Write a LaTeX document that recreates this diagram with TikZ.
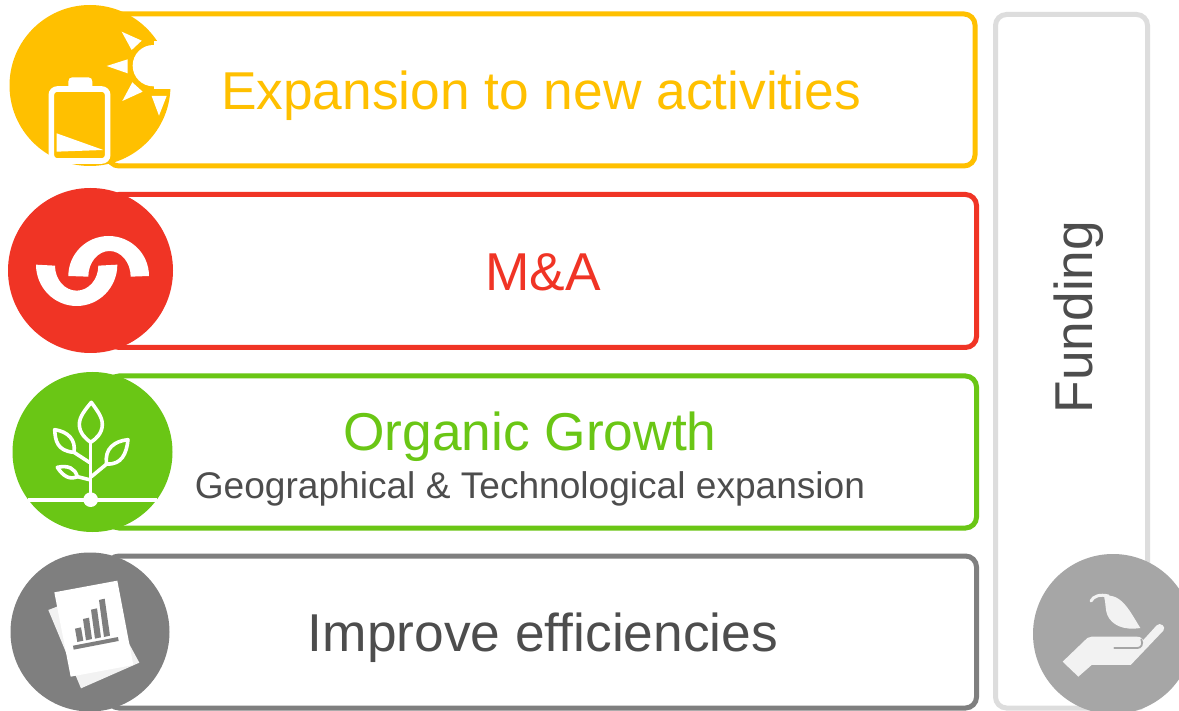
\documentclass[tikz,border=0pt]{standalone}
\usepackage{fontspec}
\setmainfont{Liberation Sans}
\definecolor{cyellow}{HTML}{FFC000}
\definecolor{cred}{HTML}{F03425}
\definecolor{cgreen}{HTML}{6AC615}
\definecolor{cgrey}{HTML}{7F7F7F}
\definecolor{ctext}{HTML}{4D4D4D}
\definecolor{cfund}{HTML}{DDDDDD}
\definecolor{chand}{HTML}{A6A6A6}
\definecolor{cpale}{HTML}{F2F2F2}
\tikzset{
  panel/.style={draw=#1,line width=5pt,rounded corners=11pt,fill=white},
  bigtext/.style={anchor=base,inner sep=0pt,font=\fontsize{53.3}{60}\selectfont},
  subtext/.style={anchor=base,inner sep=0pt,font=\fontsize{37.1}{42}\selectfont,text=ctext},
  puck/.style={fill=#1,draw=none},
  wline/.style={draw=white,line width=3.6pt,line join=round,line cap=round},
}
\begin{document}
\begin{tikzpicture}[x=1pt,y=-1pt]
\useasboundingbox (0,0) rectangle (1179,711);
\fill[white] (0,0) rectangle (1179,711);
% panels
\draw[panel=cfund] (995.5,14.5) rectangle (1147.5,708);
\draw[panel=cyellow] (108,14) rectangle (975,166);
\draw[panel=cred] (108,194.5) rectangle (976.5,347.5);
\draw[panel=cgreen] (108,376) rectangle (976.5,528);
\draw[panel=cgrey] (108,556) rectangle (976.5,708);
% yellow icon
\fill[puck=cyellow] (90,85.5) circle[radius=80.5];
\begin{scope}[scale=1/3]
  \fill[white] (460,197) circle[radius=62];
  \fill[white] (462,124) rectangle (530,268);
  \fill[white] (365,95) -- (425,122) -- (395,150) -- cycle;
  \fill[white] (320,198) -- (383,178) -- (383,220) -- cycle;
  \fill[white] (367,303) -- (428,275) -- (397,247) -- cycle;
  \fill[white] (455,288) -- (500,288) -- (477,347) -- cycle;
  \fill[white] (205,262) -- (205,245) .. controls (205,237) and (209,232) .. (217,232) -- (265,232) .. controls (273,232) and (277,237) .. (277,245) -- (277,262) -- cycle;
  \draw[white,line width=5.6pt,rounded corners=6pt] (154,267) rectangle (323,483);
  \fill[white] (170,400) -- (310,450) -- (170,455) -- cycle;
\end{scope}
% red icon
\fill[puck=cred] (90.5,270.5) circle[radius=82.5];
\begin{scope}[shift={(0,180)},scale=1/3]
  \fill[white] (108,254) arc[start angle=180,end angle=0,x radius=122,y radius=124] -- (295,257) arc[start angle=0,end angle=180,x radius=65,y radius=75] -- cycle;
  \fill[white] (205,288) arc[start angle=180,end angle=360,x radius=121,y radius=120] -- (392,290) arc[start angle=0,end angle=-180,x radius=63.5,y radius=77] -- cycle;
\end{scope}
% green icon
\fill[puck=cgreen] (92.5,452) circle[radius=80];
\begin{scope}[shift={(0,365)},scale=1/3]
  \draw[white,line width=4pt] (84,404) -- (472,404);
  \fill[white] (272,404) circle[radius=22];
  \draw[wline] (272,404) -- (272,232);
  \draw[wline] (274,112) .. controls (255,135) and (238,155) .. (238,178) .. controls (238,205) and (258,222) .. (272,232) .. controls (288,222) and (307,205) .. (307,178) .. controls (307,155) and (290,135) .. (274,112) -- cycle;
  \draw[wline] (164,194) .. controls (166,225) and (170,258) .. (222,262) .. controls (228,225) and (205,200) .. (164,194) -- cycle;
  \draw[wline] (384,224) .. controls (345,228) and (312,250) .. (320,297) .. controls (365,300) and (380,265) .. (384,224) -- cycle;
  \draw[wline] (172,307) .. controls (190,335) and (210,345) .. (232,335) .. controls (225,310) and (205,300) .. (172,307) -- cycle;
  \draw[wline] (222,262) -- (268,292);
  \draw[wline] (320,297) -- (274,335);
  \draw[wline] (232,335) -- (268,344);
\end{scope}
% grey icon
\fill[puck=cgrey] (90,632) circle[radius=79.5];
\begin{scope}[shift={(0,540)},scale=1/3]
  \fill[cpale] (145,210) -- (300,150) -- (418,368) -- (243,445) -- cycle;
  \fill[white] (163,157) -- (352,122) -- (400,375) -- (212,410) -- cycle;
  \draw[cgrey,line width=4pt] (220,323) -- (355,297);
  \fill[cgrey] (225,266) -- (243,262) -- (250,302) -- (232,306) -- cycle;
  \fill[cgrey] (249,237) -- (267,233) -- (276,297) -- (258,301) -- cycle;
  \fill[cgrey] (273,209) -- (291,205) -- (303,292) -- (285,296) -- cycle;
  \fill[cgrey] (297,180) -- (314,176) -- (330,287) -- (312,291) -- cycle;
\end{scope}
% hand icon
\fill[puck=chand] (1113,634) circle[radius=80];
\begin{scope}[shift={(980,540)},scale=1/3]
  \draw[cpale,line width=3pt,line cap=round] (333,183) .. controls (340,168) and (360,162) .. (385,168);
  \fill[cpale] (372,168) .. controls (425,158) and (450,215) .. (481,264) .. controls (430,272) and (395,255) .. (382,225) .. controls (375,208) and (378,190) .. (372,168) -- cycle;
  \fill[cpale] (248,365) -- (322,294) .. controls (326,291) and (330,290) .. (335,290) -- (470,290) .. controls (482,290) and (488,296) .. (490,300) -- (530,256) .. controls (540,245) and (560,260) .. (550,272) -- (452,375) -- (335,375) -- (295,410) -- cycle;
  \draw[chand,line width=1.8pt,line cap=round] (403,324) -- (472,324) .. controls (484,324) and (490,312) .. (484,298);
\end{scope}
% labels
\node[bigtext,text=cyellow] (expansion) at (541,110) {Expansion to new activities};
\node[bigtext,text=cred] (ma) at (543,291) {M\&A};
\node[bigtext,text=cgreen] (organic) at (530,450) {Organic Growth};
\node[subtext] (geo) at (530,498) {Geographical \& Technological expansion};
\node[bigtext,text=ctext] (improve) at (543,651) {Improve efficiencies};
\node[bigtext,text=ctext,rotate=90] (funding) at (1092,317) {Funding};
\end{tikzpicture}
\end{document}
